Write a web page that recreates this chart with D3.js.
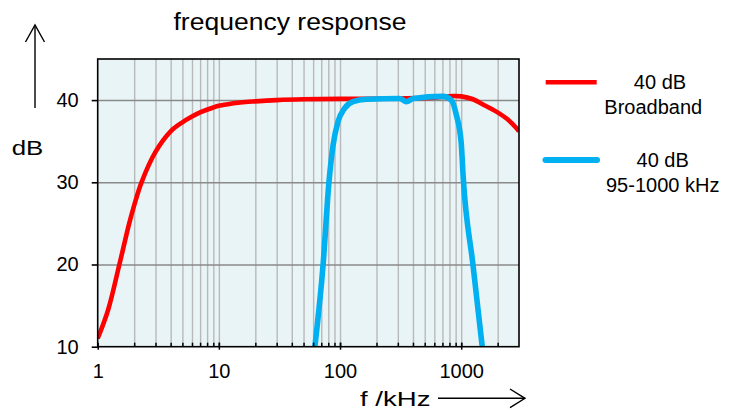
<!DOCTYPE html>
<html>
<head>
<meta charset="utf-8">
<script src="https://d3js.org/d3.v7.min.js"></script>
<style>
  body { margin: 0; background: white; }
  svg text { font-family: "Liberation Sans", Arial, sans-serif; fill: #000; }
  .grid-v line { stroke: #b9b9b9; stroke-width: 1.4px; }
  .grid-h line { stroke: #8a8a8a; stroke-width: 1.5px; }
  .domain { display: none; }
</style>
</head>
<body>
<svg id="chart" width="733" height="410"></svg>
<script>
// broadband curve (f in kHz, level in dB)
const broadFreq = [1, 1.22, 1.51, 1.82, 2, 2.3, 3, 4, 5, 6, 7, 9, 10, 15, 20, 30, 50, 100, 300, 600, 850, 1000, 1250, 1500, 1950, 2400, 2850, 3000];
const broadDb   = [11.0, 14.5, 20, 25, 27.2, 30, 33.7, 36.2, 37.3, 38.0, 38.5, 39.1, 39.3, 39.7, 39.85, 40.0, 40.1, 40.15, 40.2, 40.3, 40.5, 40.45, 40.1, 39.5, 38.6, 37.7, 36.6, 36.2];

// band-limited curve 95-1000 kHz
const bandFreq = [62, 72.5, 81, 87.6, 96.3, 109, 128, 165, 311, 353, 402, 706, 829, 912, 1000, 1040, 1250, 1492];
const bandDb   = [10, 20, 30, 34.5, 37.4, 39.0, 39.8, 40.1, 40.2, 39.8, 40.2, 40.45, 40.0, 38.2, 34.8, 30.5, 20, 10];

const yTicks = [10, 20, 30, 40];
const xMajor = [1, 10, 100, 1000];
const xLabels = ["1", "10", "100", "1000"];

const seriesNames = [["40 dB", "Broadband"], ["40 dB", "95-1000 kHz"]];
const seriesColors = ["#ff0000", "#00b0f0"];

const svg = d3.select("#chart");
const pLeft = 97.7, pRight = 519, pTop = 59, pBottom = 346.7;

const x = d3.scaleLog().domain([1, 3000]).range([pLeft, pRight]);
const y = d3.scaleLinear().domain([10, 45]).range([pBottom, pTop]);

// minor positions 2..9 in every decade
const xMinor = [];
[1, 10, 100, 1000].forEach(d => {
  for (let m = 1; m <= 9; m++) {
    const v = d * m;
    if (v > 1 && v < 3000) xMinor.push(v);
  }
});

svg.append("rect")
  .attr("x", pLeft).attr("y", pTop)
  .attr("width", pRight - pLeft).attr("height", pBottom - pTop)
  .attr("fill", "#e9f4f6");

// vertical gridlines
svg.append("g").attr("class", "grid-v")
  .attr("transform", `translate(0,${pBottom})`)
  .call(d3.axisBottom(x).tickValues(xMinor).tickSize(-(pBottom - pTop)).tickFormat(""));

// horizontal gridlines
svg.append("g").attr("class", "grid-h")
  .attr("transform", `translate(${pLeft},0)`)
  .call(d3.axisLeft(y).tickValues([20, 30, 40]).tickSize(-(pRight - pLeft)).tickFormat(""));

// curves
svg.append("defs").append("clipPath").attr("id", "plot-clip")
  .append("rect").attr("x", pLeft).attr("y", pTop)
  .attr("width", pRight - pLeft).attr("height", pBottom - pTop);

const smoothLine = d3.line().x(d => x(d[0])).y(d => y(d[1])).curve(d3.curveCatmullRom.alpha(0.5));
const line = d3.line().x(d => x(d[0])).y(d => y(d[1])).curve(d3.curveMonotoneX);
const broad = broadFreq.map((f, i) => [f, broadDb[i]]);
const band = bandFreq.map((f, i) => [f, bandDb[i]]);

svg.append("path").datum(broad)
  .attr("clip-path", "url(#plot-clip)")
  .attr("d", smoothLine).attr("fill", "none")
  .attr("stroke", seriesColors[0]).attr("stroke-width", 4.6)
  .attr("stroke-linejoin", "round");
svg.append("path").datum(band)
  .attr("clip-path", "url(#plot-clip)")
  .attr("d", line).attr("fill", "none")
  .attr("stroke", seriesColors[1]).attr("stroke-width", 5.6)
  .attr("stroke-linejoin", "round");

// frame
svg.append("rect")
  .attr("x", pLeft).attr("y", pTop)
  .attr("width", pRight - pLeft).attr("height", pBottom - pTop)
  .attr("fill", "none").attr("stroke", "#000").attr("stroke-width", 1.6);

// y axis ticks + labels
const yAxis = svg.append("g")
  .attr("transform", `translate(${pLeft},0)`)
  .call(d3.axisLeft(y).tickValues(yTicks).tickSize(6).tickPadding(13));
yAxis.selectAll("line").attr("stroke", "#000").attr("stroke-width", 1.6);
yAxis.selectAll("text").attr("font-size", null).style("font-size", "20px");

// x axis: inner minor ticks, crossing major ticks
const xIn = svg.append("g")
  .attr("transform", `translate(0,${pBottom})`)
  .call(d3.axisBottom(x).tickValues(xMinor.concat(xMajor)).tickSize(-4).tickFormat(""));
xIn.selectAll("line").attr("stroke", "#000").attr("stroke-width", 1.5);

const xAxis = svg.append("g")
  .attr("transform", `translate(0,${pBottom})`)
  .call(d3.axisBottom(x).tickValues(xMajor).tickSize(3).tickPadding(14)
    .tickFormat((d, i) => xLabels[i]));
xAxis.selectAll("line").attr("stroke", "#000").attr("stroke-width", 1.5);
xAxis.selectAll("text").attr("font-size", null).style("font-size", "20px");

// titles
svg.append("text")
  .attr("x", 173.5).attr("y", 30)
  .attr("textLength", 233).attr("lengthAdjust", "spacingAndGlyphs")
  .style("font-size", "23px")
  .text("frequency response");

svg.append("text")
  .attr("x", 11.7).attr("y", 155)
  .attr("textLength", 31.6).attr("lengthAdjust", "spacingAndGlyphs")
  .style("font-size", "21px")
  .text("dB");

svg.append("text")
  .attr("x", 360).attr("y", 406)
  .attr("textLength", 70.5).attr("lengthAdjust", "spacingAndGlyphs")
  .style("font-size", "20px")
  .text("f /kHz");

// arrows
const arrow = svg.append("g").attr("fill", "none").attr("stroke", "#000").attr("stroke-width", 1.4);
arrow.append("line").attr("x1", 35).attr("y1", 108).attr("x2", 35).attr("y2", 25);
arrow.append("polyline").attr("points", "25.5,42 35,25 44.5,42");
arrow.append("line").attr("x1", 438).attr("y1", 398.3).attr("x2", 525).attr("y2", 398.3);
arrow.append("polyline").attr("points", "510,389 525,398.3 510,407.6");

// legend
const legendY = [82.3, 160];
const legend = svg.append("g");
seriesNames.forEach((names, i) => {
  legend.append("line")
    .attr("x1", i === 0 ? 545.7 : 545.5).attr("x2", i === 0 ? 596.7 : 597)
    .attr("y1", legendY[i]).attr("y2", legendY[i])
    .attr("stroke", seriesColors[i])
    .attr("stroke-width", i === 0 ? 4.6 : 6)
    .attr("stroke-linecap", i === 0 ? "butt" : "round");
  legend.append("text")
    .attr("x", i === 0 ? 660 : 662.7).attr("y", legendY[i] + 7)
    .attr("text-anchor", "middle").style("font-size", "20px")
    .text(names[0]);
  legend.append("text")
    .attr("x", i === 0 ? 653.3 : 662.7).attr("y", legendY[i] + 32)
    .attr("text-anchor", "middle").style("font-size", "20px")
    .text(names[1]);
});
</script>
</body>
</html>
